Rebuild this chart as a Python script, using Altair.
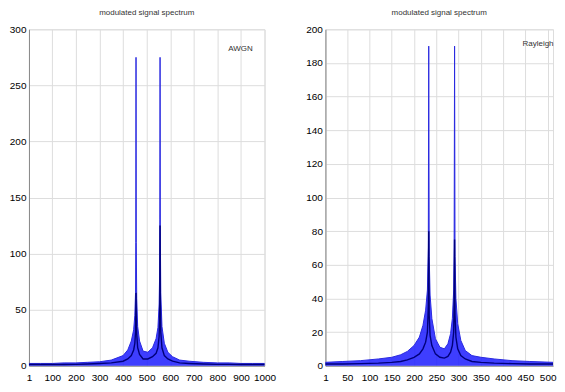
import altair as alt
import pandas as pd

TITLE = "modulated signal spectrum"

# Left panel (AWGN)
xL = [1, 50, 100, 150, 200, 250, 300, 350, 400, 420, 435, 445, 450, 453, 454, 455, 456, 458, 462,
      470, 485, 505, 525, 540, 548, 553, 555, 556, 557, 558, 560, 565, 575, 590, 610, 640, 680, 740, 800,
      850, 900, 950, 1000]
upL = [2, 2, 2, 2.5, 2.5, 3, 3.5, 5, 9, 14, 22, 32, 45, 65, 110, 275, 110, 60, 35,
       22, 13, 12, 16, 24, 34, 55, 80, 130, 275, 120, 65, 35, 20, 12, 8, 5, 4, 3, 2.5,
       2.5, 2, 2, 2]
coreL = [1, 1, 1, 1, 1.2, 1.5, 2, 2.5, 4, 6, 9, 14, 20, 30, 45, 65, 45, 28, 16,
         10, 6, 6, 8, 11, 16, 26, 40, 60, 125, 55, 30, 16, 9, 6, 4, 2.5, 2, 1.5, 1.2,
         1.2, 1, 1, 1]
xticksL = [1, 100, 200, 300, 400, 500, 600, 700, 800, 900, 1000]
yticksL = [0, 50, 100, 150, 200, 250, 300]

# Right panel (Rayleigh)
xR = [1, 40, 80, 120, 150, 170, 185, 200, 212, 220, 226, 230, 232, 233, 234, 236, 240, 248, 258, 268,
      276, 282, 286, 289, 290, 291, 292, 294, 298, 305, 315, 330, 350, 380, 420, 460, 512]
upR = [2, 2.5, 3, 4, 5, 6.5, 8.5, 12, 17, 24, 33, 45, 70, 190, 65, 42, 28, 16, 11, 10,
       13, 19, 28, 45, 70, 190, 65, 40, 25, 15, 9, 6, 5, 4, 3, 2.5, 2]
coreR = [1, 1, 1.2, 1.5, 2, 2.5, 3.5, 5, 7, 10, 14, 20, 35, 80, 30, 18, 12, 7, 5, 4.5,
         5.5, 8, 12, 20, 35, 75, 30, 17, 10, 6, 4, 2.5, 2, 1.5, 1.2, 1, 1]
xticksR = [1, 50, 100, 150, 200, 250, 300, 350, 400, 450, 500]
yticksR = [0, 20, 40, 60, 80, 100, 120, 140, 160, 180, 200]

FONT = "Liberation Sans"


def panel(xs, up, core, xdom, xticks, ydom, yticks, label, lx, ly, w, h):
    df = pd.DataFrame({"x": xs, "up": up, "core": core})
    common = dict(title=None, format="d", labelOverlap=False, labelFlush=False,
                  minExtent=0, ticks=False, tickSize=0, tickCount=50)
    xenc = alt.X("x:Q", scale=alt.Scale(domain=xdom, nice=False, zero=False),
                 axis=alt.Axis(values=xticks, labelPadding=7, **common))
    yscale = alt.Scale(domain=ydom, nice=False)
    yaxis = alt.Axis(values=yticks, labelPadding=3, **common)
    area = alt.Chart(df).mark_area(color="#1c1cff", opacity=0.85).encode(
        x=xenc, y=alt.Y("up:Q", scale=yscale, axis=yaxis))
    upline = alt.Chart(df).mark_line(color="#2a2ae0", strokeWidth=1).encode(
        x="x:Q", y="up:Q")
    coreline = alt.Chart(df).mark_line(color="#00007a", strokeWidth=1.4).encode(
        x="x:Q", y="core:Q")
    txt = alt.Chart(pd.DataFrame({"t": [label]})).mark_text(
        font=FONT, fontSize=8, color="#333", align="center", baseline="middle").encode(
        text="t:N", x=alt.value(lx), y=alt.value(ly))
    return alt.layer(area, upline, coreline, txt).properties(
        width=w, height=h,
        title=alt.Title(TITLE, fontSize=8, font=FONT, fontWeight="normal", color="#333", offset=7))


left = panel(xL, upL, coreL, [1, 1000], xticksL, [0, 300], yticksL, "AWGN", 212, 20, 236, 337)
right = panel(xR, upR, coreR, [1, 512], xticksR, [0, 200], yticksR, "Rayleigh", 213, 15, 228, 337)

chart = alt.hconcat(left, right, spacing=28).properties(
    padding={"left": 0, "top": 0, "right": 0, "bottom": 0}
).configure_view(stroke="#444", strokeWidth=1).configure_axis(
    labelFont=FONT, labelFontSize=8, labelColor="#333",
    domainColor="#444", gridColor="#cfcfcf", gridDash=[2, 2], gridWidth=1
).configure(background="white")

chart.save("out.html", embed_options={"renderer": "svg", "actions": False})
